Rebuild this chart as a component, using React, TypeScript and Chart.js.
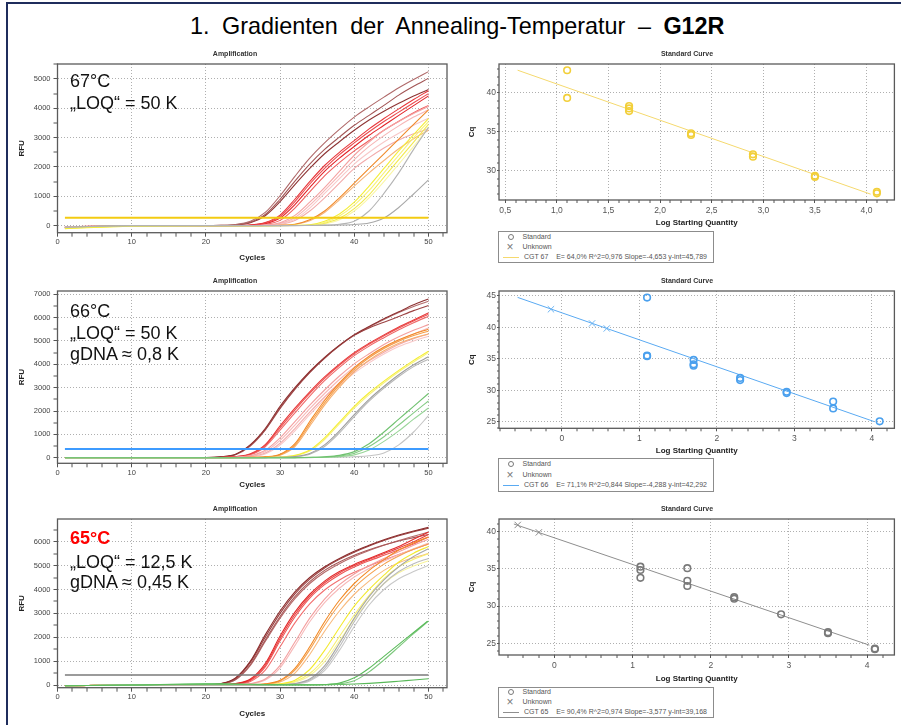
import React, { useEffect, useRef } from 'react';
import { Chart, registerables } from 'chart.js';

Chart.register(...registerables);

const FONT = "'Liberation Sans', Arial, Helvetica, sans-serif";

// Cycle numbers at which every amplification curve is sampled
const CYCLES = [1, 10, 20, 22, 24, 26, 28, 30, 32, 34, 36, 38, 40, 42, 44, 46, 48, 50];

// ---------- 67 °C amplification curves (RFU per cycle in CYCLES) ----------
const AMP67_BROWN = [
  [-60, 0, 0, 10, 40, 150, 450, 1020, 1680, 2300, 2820, 3280, 3700, 4050, 4380, 4700, 4980, 5250],
  [-80, 0, 0, 8, 30, 120, 380, 900, 1520, 2100, 2600, 3020, 3420, 3760, 4100, 4450, 4750, 5020],
  [-70, 0, 0, 5, 20, 100, 340, 820, 1400, 1950, 2450, 2860, 3250, 3600, 3900, 4170, 4420, 4640],
];
const AMP67_RED = [
  [-50, 0, 0, 0, 5, 25, 110, 360, 900, 1500, 2050, 2500, 2900, 3300, 3650, 3980, 4300, 4600],
  [-60, 0, 0, 0, 4, 20, 90, 310, 820, 1420, 1950, 2420, 2820, 3200, 3550, 3870, 4190, 4500],
  [-40, 0, 0, 0, 3, 15, 70, 260, 720, 1300, 1850, 2300, 2700, 3080, 3420, 3760, 4090, 4420],
  [-50, 0, 0, 0, 2, 10, 45, 180, 600, 1150, 1700, 2150, 2550, 2900, 3250, 3560, 3850, 4100],
];
const AMP67_PINK = [
  [-60, 0, 0, 0, 0, 5, 25, 100, 350, 800, 1300, 1850, 2400, 2850, 3250, 3550, 3820, 4060],
  [-50, 0, 0, 0, 0, 4, 20, 80, 280, 700, 1200, 1720, 2250, 2700, 3070, 3400, 3700, 3950],
  [-40, 0, 0, 0, 0, 3, 15, 60, 220, 600, 1100, 1600, 2100, 2500, 2850, 3150, 3420, 3660],
  [-60, 0, 0, 0, 0, 2, 10, 50, 180, 500, 950, 1450, 1950, 2320, 2650, 2920, 3130, 3300],
];
const AMP67_ORANGE = [
  [-80, 0, 0, 0, 0, 0, 5, 15, 50, 200, 500, 950, 1450, 1950, 2450, 2950, 3450, 3950],
  [-60, 0, 0, 0, 0, 0, 4, 12, 40, 170, 450, 880, 1350, 1800, 2220, 2620, 2960, 3250],
];
const AMP67_YELLOW = [
  [-100, -20, 0, 0, 0, 0, 0, 5, 10, 30, 150, 400, 800, 1350, 1950, 2550, 3100, 3650],
  [-90, -20, 0, 0, 0, 0, 0, 4, 8, 20, 110, 330, 700, 1200, 1800, 2400, 3000, 3550],
  [-80, -10, 0, 0, 0, 0, 0, 0, 5, 15, 80, 250, 580, 1050, 1650, 2250, 2850, 3450],
  [-100, -10, 0, 0, 0, 0, 0, 0, 5, 10, 60, 200, 500, 950, 1500, 2100, 2700, 3350],
];
const AMP67_GRAY = [
  [-60, 0, 0, 0, 0, 0, 0, 0, 5, 10, 20, 50, 150, 500, 1100, 1800, 2600, 3350],
  [-50, 0, 0, 0, 0, 0, 0, 0, 0, 5, 10, 20, 40, 90, 260, 620, 1080, 1560],
];
const AMP67_THRESHOLD = 270;

// ---------- 66 °C amplification curves ----------
const AMP66_BROWN = [
  [0, 0, 10, 40, 150, 560, 1250, 2200, 3000, 3700, 4300, 4820, 5270, 5620, 5950, 6250, 6550, 6800],
  [0, 0, 10, 35, 140, 530, 1200, 2130, 2950, 3660, 4270, 4800, 5250, 5560, 5800, 6050, 6300, 6520],
  [0, 0, 8, 30, 130, 500, 1180, 2100, 2920, 3640, 4260, 4790, 5240, 5600, 5920, 6220, 6480, 6700],
];
const AMP66_RED = [
  [0, 0, 5, 10, 50, 170, 560, 1360, 2120, 2820, 3460, 4010, 4500, 4900, 5260, 5600, 5900, 6200],
  [0, 0, 4, 8, 45, 150, 520, 1280, 2040, 2750, 3400, 3960, 4450, 4860, 5220, 5560, 5860, 6140],
  [0, 0, 3, 6, 40, 130, 470, 1180, 1920, 2640, 3300, 3870, 4370, 4780, 5140, 5480, 5780, 6060],
];
const AMP66_PINK = [
  [0, 0, 0, 4, 20, 90, 320, 850, 1550, 2250, 2900, 3500, 4020, 4450, 4850, 5180, 5460, 5700],
  [0, 0, 0, 3, 15, 70, 260, 740, 1400, 2100, 2750, 3350, 3880, 4320, 4700, 5020, 5300, 5550],
  [0, 0, 0, 2, 10, 50, 200, 620, 1250, 1950, 2600, 3200, 3720, 4150, 4520, 4850, 5100, 5300],
  [0, 0, 0, 2, 8, 40, 160, 540, 1150, 1850, 2500, 3100, 3620, 4060, 4440, 4760, 5000, 5200],
];
const AMP66_ORANGE = [
  [0, 0, 0, 0, 5, 15, 40, 150, 600, 1550, 2450, 3200, 3850, 4350, 4740, 5050, 5300, 5500],
  [0, 0, 0, 0, 4, 12, 35, 130, 540, 1450, 2350, 3120, 3780, 4280, 4680, 4990, 5230, 5420],
  [0, 0, 0, 0, 3, 10, 30, 110, 480, 1350, 2250, 3020, 3680, 4180, 4580, 4900, 5130, 5300],
];
const AMP66_YELLOW = [
  [0, 0, 0, 0, 0, 3, 10, 30, 100, 330, 850, 1520, 2200, 2780, 3280, 3740, 4170, 4560],
  [0, 0, 0, 0, 0, 2, 8, 25, 85, 290, 780, 1450, 2120, 2700, 3210, 3680, 4100, 4500],
];
const AMP66_GRAY = [
  [0, 0, 0, 0, 0, 0, 5, 15, 50, 180, 550, 1150, 1850, 2500, 3050, 3550, 3980, 4320],
  [0, 0, 0, 0, 0, 0, 4, 12, 40, 150, 480, 1060, 1760, 2420, 2980, 3480, 3900, 4220],
  [0, 0, 0, 0, 0, 0, 0, 0, 0, 5, 10, 20, 40, 80, 200, 550, 1100, 1800],
];
const AMP66_GREEN = [
  [0, 0, 0, 0, 0, 0, 0, 0, 5, 15, 40, 100, 260, 600, 1100, 1650, 2200, 2750],
  [0, 0, 0, 0, 0, 0, 0, 0, 3, 10, 25, 70, 190, 480, 900, 1400, 1920, 2430],
  [0, 0, 0, 0, 0, 0, 0, 0, 2, 6, 15, 45, 120, 330, 700, 1150, 1650, 2130],
];
const AMP66_THRESHOLD = 370;

// ---------- 65 °C amplification curves ----------
const AMP65_BROWN = [
  [-30, 0, 10, 60, 300, 1000, 2100, 3100, 3900, 4500, 4950, 5300, 5600, 5850, 6080, 6280, 6450, 6600],
  [-30, 0, 10, 55, 280, 950, 2000, 3000, 3820, 4430, 4900, 5260, 5560, 5820, 6050, 6250, 6420, 6560],
  [-30, 0, 8, 45, 240, 860, 1880, 2870, 3700, 4330, 4800, 5150, 5430, 5660, 5860, 6030, 6170, 6300],
  [-30, 0, 8, 40, 220, 820, 1820, 2800, 3620, 4250, 4720, 5080, 5380, 5630, 5850, 6050, 6230, 6400],
];
const AMP65_RED = [
  [-30, 0, 5, 15, 60, 250, 900, 2050, 3050, 3800, 4350, 4750, 5050, 5300, 5550, 5800, 6100, 6400],
  [-30, 0, 5, 12, 50, 220, 830, 1950, 2950, 3720, 4280, 4690, 5000, 5260, 5500, 5740, 6000, 6300],
  [-30, 0, 4, 10, 40, 190, 760, 1850, 2850, 3640, 4200, 4620, 4940, 5200, 5430, 5660, 5900, 6200],
  [-30, 0, 4, 8, 30, 150, 620, 1600, 2600, 3400, 3980, 4400, 4720, 4980, 5230, 5460, 5680, 5900],
];
const AMP65_PINK = [
  [-30, 0, 0, 5, 15, 60, 250, 820, 1800, 2800, 3600, 4200, 4650, 5000, 5300, 5580, 5850, 6100],
  [-30, 0, 0, 4, 12, 50, 210, 720, 1650, 2650, 3450, 4050, 4520, 4880, 5180, 5450, 5700, 5950],
];
const AMP65_ORANGE = [
  [-30, 0, 0, 0, 5, 15, 50, 200, 700, 1600, 2650, 3550, 4250, 4800, 5250, 5650, 5950, 6200],
  [-30, 0, 0, 0, 4, 12, 40, 170, 620, 1480, 2500, 3380, 4080, 4620, 5060, 5400, 5680, 5900],
  [-30, 0, 0, 0, 3, 10, 30, 130, 500, 1280, 2250, 3100, 3800, 4350, 4800, 5120, 5330, 5500],
];
const AMP65_YELLOW = [
  [-30, 0, 0, 0, 0, 5, 15, 50, 200, 650, 1450, 2400, 3300, 4000, 4600, 5150, 5520, 5800],
  [-30, 0, 0, 0, 0, 4, 12, 40, 150, 480, 1120, 2030, 2930, 3750, 4450, 4950, 5260, 5500],
  [-30, 0, 0, 0, 0, 3, 10, 30, 120, 400, 980, 1850, 2750, 3550, 4250, 4700, 4980, 5200],
];
const AMP65_GRAY = [
  [-30, 0, 0, 0, 0, 0, 5, 15, 60, 250, 800, 1750, 2800, 3700, 4400, 4950, 5380, 5700],
  [-30, 0, 0, 0, 0, 0, 4, 12, 50, 210, 700, 1600, 2650, 3550, 4250, 4750, 5080, 5300],
  [-30, 0, 0, 0, 0, 0, 3, 10, 40, 170, 600, 1450, 2450, 3350, 4000, 4450, 4750, 5000],
];
const AMP65_GREEN = [
  [-30, 0, 50, 50, 40, 30, 20, 15, 10, 10, 20, 80, 300, 700, 1200, 1700, 2200, 2700],
  [-30, 0, 40, 40, 30, 20, 15, 10, 8, 8, 15, 50, 180, 550, 1050, 1600, 2150, 2680],
  [-30, 0, 30, 30, 25, 20, 15, 10, 5, 5, 10, 20, 40, 70, 110, 160, 210, 260],
];
const AMP65_THRESHOLD = 420;

// ---------- Standard curves: log starting quantity vs. Cq ----------
const STD67_LOG = [1.1, 1.1, 1.7, 1.7, 1.7, 2.3, 2.3, 2.9, 2.9, 3.5, 3.5, 4.1, 4.1];
const STD67_CQ = [42.9, 39.35, 38.3, 38.0, 37.65, 34.8, 34.6, 32.1, 31.8, 29.35, 29.2, 27.3, 27.1];
const UNK67_LOG: number[] = [];
const UNK67_CQ: number[] = [];

const STD66_LOG = [1.1, 1.1, 1.1, 1.7, 1.7, 1.7, 2.3, 2.3, 2.9, 2.9, 3.5, 3.5, 4.1];
const STD66_CQ = [44.7, 35.5, 35.4, 34.8, 34.1, 33.9, 31.95, 31.6, 29.75, 29.55, 28.2, 27.1, 25.05];
const UNK66_LOG = [-0.14, 0.39, 0.58];
const UNK66_CQ = [42.85, 40.6, 39.8];

const STD65_LOG = [1.1, 1.1, 1.1, 1.7, 1.7, 1.7, 2.3, 2.3, 2.9, 3.5, 3.5, 4.1, 4.1];
const STD65_CQ = [35.3, 34.85, 33.8, 35.1, 33.4, 32.7, 31.2, 31.0, 28.9, 26.5, 26.35, 24.3, 24.2];
const UNK65_LOG = [-0.47, -0.2];
const UNK65_CQ = [40.9, 39.9];

// Fit results per run: [efficiency %, R^2, slope, y-intercept]
const FIT67 = [64.0, 0.976, -4.653, 45.789];
const FIT66 = [71.1, 0.844, -4.288, 42.292];
const FIT65 = [90.4, 0.974, -3.577, 39.168];
// Log-quantity span covered by each regression line
const FIT67_SPAN = [0.62, 4.04];
const FIT66_SPAN = [-0.57, 4.03];
const FIT65_SPAN = [-0.52, 4.03];

// ---------- helpers ----------
const isMultiple = (v: number, m: number) => {
  const r = v / m;
  return Math.abs(r - Math.round(r)) < 1e-6;
};
const comma = (v: number, d: number) => v.toFixed(d).replace('.', ',');

const framePlugin = {
  id: 'plotFrame',
  afterDraw(chart: any) {
    const { ctx, chartArea: a } = chart;
    ctx.save();
    ctx.strokeStyle = '#5a5a5a';
    ctx.lineWidth = 1.3;
    ctx.strokeRect(a.left, a.top, a.right - a.left, a.bottom - a.top);
    ctx.restore();
  },
};

// Linear axis with minor tick marks every `step` and labelled, gridded majors every `major`
function axis(o: any) {
  return {
    type: 'linear',
    min: o.min,
    max: o.max,
    afterBuildTicks: (s: any) => {
      const first = Math.ceil(o.min / o.step - 1e-9);
      const last = Math.floor(o.max / o.step + 1e-9);
      const ticks: any[] = [];
      for (let k = first; k <= last; k++) ticks.push({ value: Number((k * o.step).toFixed(6)) });
      s.ticks = ticks;
    },
    ticks: {
      autoSkip: false,
      maxRotation: 0,
      minRotation: 0,
      padding: o.tickPad,
      color: o.labelColor,
      font: { family: FONT, size: o.fontSize },
      callback: (v: number) => (isMultiple(v, o.major) ? o.fmt(v) : ''),
    },
    grid: {
      color: '#9a9a9a',
      lineWidth: (ctx: any) => (ctx.tick && isMultiple(ctx.tick.value, o.major) ? 0.8 : 0),
      tickColor: '#555',
      tickWidth: 1,
      tickLength: o.tickLen,
    },
    border: { display: false, dash: [1, 2] },
    title: {
      display: true,
      text: o.title,
      color: '#222',
      font: { family: FONT, size: 8, weight: 'bold', lineHeight: 1.2 },
      padding: o.titlePad,
    },
    afterFit: (s: any) => {
      if (s.isHorizontal()) s.height = o.size;
      else s.width = o.size;
    },
  };
}

interface Box {
  top: number;
  height: number;
  chartTop: number;
  chartBottom: number;
  xTitleCenter: number;
}

const AMP_FRAME = { left: 10, width: 440, padLeft: 13, padRight: 3, yAxisWidth: 34.5, yTitleShift: -5.8 };
const STD_FRAME = { left: 462, width: 438, padLeft: 15, padRight: 3, yAxisWidth: 22, yTitleShift: -9.8 };

function boxLayout(b: Box, frame: any) {
  const xAxisHeight = b.xTitleCenter + 4.8 - b.chartBottom;
  return {
    layout: {
      padding: {
        left: frame.padLeft,
        right: frame.padRight,
        top: 0,
        bottom: b.top + b.height - b.chartBottom - xAxisHeight,
      },
    },
    titleGap: b.chartTop - b.top - 5 - 8.4,
    xAxisHeight,
  };
}

function ampConfig(spec: any) {
  const L = boxLayout(spec.box, AMP_FRAME);
  const datasets: any[] = [];
  spec.groups.forEach((g: any) =>
    g.curves.forEach((vals: number[], i: number) =>
      datasets.push({
        data: CYCLES.map((c, k) => ({ x: c, y: vals[k] })),
        borderColor: g.colors[i % g.colors.length],
        borderWidth: 1.1,
        pointRadius: 0,
        fill: false,
        cubicInterpolationMode: 'monotone',
        order: 2,
      })
    )
  );
  datasets.push({
    data: [
      { x: CYCLES[0], y: spec.threshold },
      { x: CYCLES[CYCLES.length - 1], y: spec.threshold },
    ],
    borderColor: spec.thresholdColor,
    borderWidth: spec.thresholdWidth,
    pointRadius: 0,
    fill: false,
    order: 1,
  });
  return {
    type: 'line',
    data: { datasets },
    options: {
      animation: false,
      responsive: false,
      events: [],
      layout: L.layout,
      plugins: {
        legend: { display: false },
        tooltip: { enabled: false },
        title: {
          display: true,
          text: 'Amplification',
          color: '#333',
          font: { family: FONT, size: 7, weight: 'bold', lineHeight: 1.2 },
          padding: { top: 5, bottom: L.titleGap },
        },
      },
      scales: {
        x: axis({
          min: 0, max: 52.5, step: 2, major: 10, fmt: (v: number) => String(v),
          title: 'Cycles', titlePad: { top: 0, bottom: 0 }, size: L.xAxisHeight,
          tickLen: 4, tickPad: 1, fontSize: 7.5, labelColor: '#444',
        }),
        y: axis({
          min: spec.yMin, max: spec.yMax, step: 500, major: 1000, fmt: (v: number) => String(v),
          title: 'RFU', titlePad: { top: AMP_FRAME.yTitleShift, bottom: 0 }, size: AMP_FRAME.yAxisWidth,
          tickLen: 4, tickPad: 3, fontSize: 7.5, labelColor: '#444',
        }),
      },
    },
    plugins: [framePlugin],
  };
}

function stdConfig(spec: any) {
  const L = boxLayout(spec.box, STD_FRAME);
  const [, , slope, yint] = spec.fit;
  const [x0, x1] = spec.span;
  const datasets: any[] = [
    {
      type: 'line',
      data: [
        { x: x0, y: slope * x0 + yint },
        { x: x1, y: slope * x1 + yint },
      ],
      borderColor: spec.lineColor,
      borderWidth: 1,
      pointRadius: 0,
      showLine: true,
      fill: false,
      order: 3,
    },
    {
      type: 'scatter',
      data: spec.stdLog.map((x: number, i: number) => ({ x, y: spec.stdCq[i] })),
      pointStyle: 'circle',
      pointRadius: 3.3,
      borderWidth: 1.6,
      borderColor: spec.pointColor,
      backgroundColor: 'rgba(0,0,0,0)',
      order: 1,
    },
    {
      type: 'scatter',
      data: spec.unkLog.map((x: number, i: number) => ({ x, y: spec.unkCq[i] })),
      pointStyle: 'crossRot',
      pointRadius: 4.5,
      borderWidth: 1,
      borderColor: spec.crossColor,
      order: 2,
    },
  ];
  return {
    type: 'scatter',
    data: { datasets },
    options: {
      animation: false,
      responsive: false,
      events: [],
      layout: L.layout,
      plugins: {
        legend: { display: false },
        tooltip: { enabled: false },
        title: {
          display: true,
          text: 'Standard Curve',
          color: '#333',
          font: { family: FONT, size: 7, weight: 'bold', lineHeight: 1.2 },
          padding: { top: 5, bottom: L.titleGap },
        },
      },
      scales: {
        x: axis({
          min: spec.xMin, max: spec.xMax, step: spec.xStep, major: spec.xMajor, fmt: spec.xFmt,
          title: 'Log Starting Quantity', titlePad: { top: 0, bottom: 0 }, size: L.xAxisHeight,
          tickLen: 3, tickPad: 2.5, fontSize: 8.5, labelColor: '#555',
        }),
        y: axis({
          min: spec.yMin, max: spec.yMax, step: 1, major: 5, fmt: (v: number) => String(v),
          title: 'Cq', titlePad: { top: STD_FRAME.yTitleShift, bottom: 0 }, size: STD_FRAME.yAxisWidth,
          tickLen: 2, tickPad: 1, fontSize: 8.5, labelColor: '#555',
        }),
      },
    },
    plugins: [framePlugin],
  };
}

function ChartBox({ frame, box, config }: any) {
  const ref = useRef<HTMLCanvasElement | null>(null);
  useEffect(() => {
    if (!ref.current) return;
    const chart = new Chart(ref.current, config);
    return () => chart.destroy();
  }, []);
  return (
    <canvas
      ref={ref}
      width={frame.width}
      height={box.height}
      style={{ position: 'absolute', left: frame.left, top: box.top, width: frame.width, height: box.height }}
    />
  );
}

function FitLegend({ top, rows, name, fit, lineColor }: any) {
  const boxTop = top;
  const text = `CGT ${name}    E= ${comma(fit[0], 1)}% R^2=${comma(fit[1], 3)} Slope=${comma(fit[2], 3)} y-int=${comma(fit[3], 3)}`;
  const rowTop = (c: number) => c - boxTop - 1 - 5;
  const txt: any = { position: 'absolute', left: 23.5, fontSize: 7, lineHeight: '10px', color: '#555', whiteSpace: 'pre' };
  return (
    <div
      style={{
        position: 'absolute', left: 498, top: boxTop, width: 216, height: rows[3] - boxTop,
        border: '1px solid #8c8c8c', boxSizing: 'border-box', background: '#fff',
      }}
    >
      <div
        style={{
          position: 'absolute', left: 8.5, top: rowTop(rows[0]) + 2, width: 6, height: 6,
          borderRadius: '50%', border: '1.2px solid #7a7a7a', boxSizing: 'border-box',
        }}
      />
      <div style={{ ...txt, top: rowTop(rows[0]) }}>Standard</div>
      <div style={{ position: 'absolute', left: 7.5, top: rowTop(rows[1]) - 1, fontSize: 12, lineHeight: '12px', color: '#7a7a7a' }}>×</div>
      <div style={{ ...txt, top: rowTop(rows[1]) }}>Unknown</div>
      <div style={{ position: 'absolute', left: 4, top: rowTop(rows[2]) + 5, width: 16, height: 1, background: lineColor }} />
      <div style={{ ...txt, left: 25, top: rowTop(rows[2]) }}>{text}</div>
    </div>
  );
}

const NOTE: any = { position: 'absolute', left: 70, fontSize: 18, lineHeight: '22px', color: '#111', whiteSpace: 'nowrap' };

const BOX_A67: Box = { top: 45, height: 218, chartTop: 64, chartBottom: 232.7, xTitleCenter: 257.3 };
const BOX_A66: Box = { top: 272, height: 218, chartTop: 291, chartBottom: 463.3, xTitleCenter: 485 };
const BOX_A65: Box = { top: 500, height: 219, chartTop: 519, chartBottom: 687.7, xTitleCenter: 713.3 };
const BOX_S67: Box = { top: 45, height: 184, chartTop: 64, chartBottom: 200, xTitleCenter: 223 };
const BOX_S66: Box = { top: 272, height: 184, chartTop: 291, chartBottom: 428.3, xTitleCenter: 450.7 };
const BOX_S65: Box = { top: 500, height: 184, chartTop: 519, chartBottom: 655, xTitleCenter: 678.3 };

const amp67 = ampConfig({
  box: BOX_A67, yMin: -240, yMax: 5510, threshold: AMP67_THRESHOLD, thresholdColor: '#f3cb12', thresholdWidth: 2,
  groups: [
    { curves: AMP67_GRAY, colors: ['#b4b4b4', '#a8a8a8'] },
    { curves: AMP67_YELLOW, colors: ['#f4ee3a', '#f8f27a', '#f2ea4e', '#faf6a6'] },
    { curves: AMP67_ORANGE, colors: ['#f08a2a', '#f7b57a'] },
    { curves: AMP67_PINK, colors: ['#f4a3a3', '#f6b6b6', '#f8c8c8', '#f2abab'] },
    { curves: AMP67_RED, colors: ['#e8383c', '#ec4b4f', '#e3262b', '#f06060'] },
    { curves: AMP67_BROWN, colors: ['#b06a6a', '#a35656', '#8e3535'] },
  ],
});
const amp66 = ampConfig({
  box: BOX_A66, yMin: -240, yMax: 7140, threshold: AMP66_THRESHOLD, thresholdColor: '#3d9bff', thresholdWidth: 2,
  groups: [
    { curves: AMP66_GREEN, colors: ['#70c270', '#86cc86', '#9ad69a'] },
    { curves: AMP66_GRAY, colors: ['#9e9e9e', '#b8b8b8', '#c4c4c4'] },
    { curves: AMP66_YELLOW, colors: ['#f4ee34', '#f8f27a'] },
    { curves: AMP66_ORANGE, colors: ['#f28a26', '#f5a04a', '#f7b070'] },
    { curves: AMP66_PINK, colors: ['#f4a0a0', '#f7b8b8', '#f3acac', '#f9c8c8'] },
    { curves: AMP66_RED, colors: ['#e63a3a', '#ee5454', '#f06a6a'] },
    { curves: AMP66_BROWN, colors: ['#8e3232', '#9c4444', '#b46e6e'] },
  ],
});
const amp65 = ampConfig({
  box: BOX_A65, yMin: -112, yMax: 6950, threshold: AMP65_THRESHOLD, thresholdColor: '#7a7a7a', thresholdWidth: 1.4,
  groups: [
    { curves: AMP65_GREEN, colors: ['#5cbc5c', '#7cc87c', '#58b858'] },
    { curves: AMP65_GRAY, colors: ['#a8a8a8', '#bcbcbc', '#c8c8c8'] },
    { curves: AMP65_YELLOW, colors: ['#f3ea30', '#f6f070', '#f8f49a'] },
    { curves: AMP65_ORANGE, colors: ['#f28a26', '#f5a250', '#f8ba7e'] },
    { curves: AMP65_PINK, colors: ['#f4a0a0', '#f7baba'] },
    { curves: AMP65_RED, colors: ['#e22a2a', '#e84040', '#ee5656', '#f27070'] },
    { curves: AMP65_BROWN, colors: ['#8b2c2c', '#9a4040', '#a85858', '#b46a6a'] },
  ],
});

const std67 = stdConfig({
  box: BOX_S67, xMin: 0.44, xMax: 4.27, xStep: 0.1, xMajor: 0.5, xFmt: (v: number) => comma(v, 1),
  yMin: 26.24, yMax: 43.7, stdLog: STD67_LOG, stdCq: STD67_CQ, unkLog: UNK67_LOG, unkCq: UNK67_CQ,
  fit: FIT67, span: FIT67_SPAN, pointColor: '#f2cf3a', lineColor: '#f5d96e', crossColor: '#f2cf3a',
});
const std66 = stdConfig({
  box: BOX_S66, xMin: -0.81, xMax: 4.29, xStep: 0.2, xMajor: 1, xFmt: (v: number) => String(Math.round(v)),
  yMin: 23.95, yMax: 45.75, stdLog: STD66_LOG, stdCq: STD66_CQ, unkLog: UNK66_LOG, unkCq: UNK66_CQ,
  fit: FIT66, span: FIT66_SPAN, pointColor: '#4aa0ee', lineColor: '#5aaaf2', crossColor: '#6cb4f2',
});
const std65 = stdConfig({
  box: BOX_S65, xMin: -0.71, xMax: 4.35, xStep: 0.2, xMajor: 1, xFmt: (v: number) => String(Math.round(v)),
  yMin: 23.43, yMax: 41.7, stdLog: STD65_LOG, stdCq: STD65_CQ, unkLog: UNK65_LOG, unkCq: UNK65_CQ,
  fit: FIT65, span: FIT65_SPAN, pointColor: '#7a7a7a', lineColor: '#8e8e8e', crossColor: '#8a8a8a',
});

export default function App() {
  return (
    <div
      style={{
        position: 'fixed', left: 0, top: 0, width: 901, height: 725, background: '#fff',
        overflow: 'hidden', fontFamily: FONT,
      }}
    >
      <div style={{ position: 'absolute', left: 6, top: 2, right: 0, height: 2, background: '#1f2d5c' }} />
      <div style={{ position: 'absolute', left: 6, top: 2, bottom: 0, width: 2, background: '#1f2d5c' }} />
      <div
        style={{
          position: 'absolute', left: 190, top: 15, fontSize: 23.4, lineHeight: '23px', wordSpacing: 6,
          whiteSpace: 'nowrap', color: '#000',
        }}
      >
        1. Gradienten der Annealing-Temperatur – <b>G12R</b>
      </div>

      <ChartBox frame={AMP_FRAME} box={BOX_A67} config={amp67} />
      <ChartBox frame={AMP_FRAME} box={BOX_A66} config={amp66} />
      <ChartBox frame={AMP_FRAME} box={BOX_A65} config={amp65} />
      <ChartBox frame={STD_FRAME} box={BOX_S67} config={std67} />
      <ChartBox frame={STD_FRAME} box={BOX_S66} config={std66} />
      <ChartBox frame={STD_FRAME} box={BOX_S65} config={std65} />

      <div style={{ ...NOTE, top: 70 }}>67°C</div>
      <div style={{ ...NOTE, top: 92.3 }}>„LOQ“ = 50 K</div>

      <div style={{ ...NOTE, top: 300 }}>66°C</div>
      <div style={{ ...NOTE, top: 322.3 }}>„LOQ“ = 50 K</div>
      <div style={{ ...NOTE, top: 343.3 }}>gDNA ≈ 0,8 K</div>

      <div style={{ ...NOTE, top: 527.3, color: '#ff0000', fontWeight: 'bold' }}>65°C</div>
      <div style={{ ...NOTE, top: 550.6 }}>„LOQ“ = 12,5 K</div>
      <div style={{ ...NOTE, top: 570.6 }}>gDNA ≈ 0,45 K</div>

      <FitLegend top={231} rows={[236.7, 246.7, 256.7, 263]} name="67" fit={FIT67} lineColor="#f5d96e" />
      <FitLegend top={458.3} rows={[464.3, 475, 485, 491.7]} name="66" fit={FIT66} lineColor="#5aaaf2" />
      <FitLegend top={686.7} rows={[691.7, 702.3, 712.3, 718.3]} name="65" fit={FIT65} lineColor="#8e8e8e" />
    </div>
  );
}
